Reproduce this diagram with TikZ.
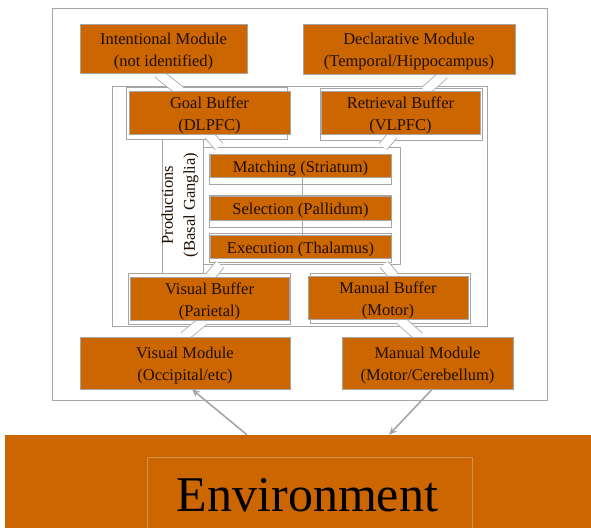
\documentclass[tikz,border=0pt]{standalone}
\usepackage{fontspec}
\setmainfont{Liberation Serif}
\usetikzlibrary{arrows.meta}
\definecolor{orng}{HTML}{CC6600}
\definecolor{gry}{HTML}{A6A6A6}
\definecolor{txt}{HTML}{1F0F00}
\definecolor{envline}{HTML}{D68D52}
\pgfdeclarelayer{lay0}\pgfdeclarelayer{lay1}\pgfdeclarelayer{lay2}
\pgfsetlayers{lay0,lay1,lay2,main}
\newcommand\tpstrut{\rule{0pt}{17.5pt}}
\begin{document}
\begin{tikzpicture}[x=1pt,y=-1pt,
  box/.style={draw=gry, line width=0.8pt, fill=orng, inner sep=0pt, text=txt, align=center,
    font=\fontsize{16.5}{22}\selectfont},
  backbox/.style={draw=gry, line width=0.8pt, fill=white, inner sep=0pt},
  frame/.style={draw=gry, line width=0.9pt, fill=white, inner sep=0pt},
  conn/.style={draw=gry, line width=0.8pt, double=white, double distance=9pt},
  arr/.style={draw=gry, line width=1.6pt, -{Stealth[length=8pt,width=7pt]}},
  thinline/.style={draw=gry, line width=0.8pt}]
\useasboundingbox (0,0) rectangle (591,527);
\clip (0,0) rectangle (591,527);

\begin{pgfonlayer}{lay0}
  \node[frame, minimum width=495pt, minimum height=392pt] (outer) at (299.5,204) {};
  \node[frame, minimum width=375pt, minimum height=240pt] (inner) at (299.5,206) {};
  \node[frame, minimum width=41pt, minimum height=156pt] (plbl) at (182.5,206) {};
  \node[frame, minimum width=197pt, minimum height=117pt] (prod) at (301.5,205.5) {};
\end{pgfonlayer}

\begin{pgfonlayer}{lay1}
  \node[backbox, minimum width=161pt, minimum height=52pt] (gbb) at (206.5,113) {};
  \node[backbox, minimum width=162pt, minimum height=52pt] (rbb) at (401,114) {};
  \node[backbox, minimum width=182pt, minimum height=30pt] (mtb) at (300,169) {};
  \node[backbox, minimum width=182pt, minimum height=32pt] (slb) at (300,211) {};
  \node[backbox, minimum width=182pt, minimum height=29pt] (exb) at (300,247.5) {};
  \node[backbox, minimum width=162pt, minimum height=51pt] (vbb) at (209,298.5) {};
  \node[backbox, minimum width=160pt, minimum height=50pt] (mbb) at (390,298) {};
\end{pgfonlayer}

% orange boxes
\node[box, minimum width=167pt, minimum height=49pt] (im) at (163.5,48.5) {\tpstrut Intentional Module\\(not identified)};
\node[box, minimum width=212pt, minimum height=50pt] (dm) at (409,49) {\tpstrut Declarative Module\\(Temporal/Hippocampus)};
\node[box, minimum width=161pt, minimum height=42pt] (gb) at (209.5,113) {\tpstrut Goal Buffer\\(DLPFC)};
\node[box, minimum width=159pt, minimum height=42pt] (rb) at (400.5,113) {\tpstrut Retrieval Buffer\\(VLPFC)};
\node[box, minimum width=181pt, minimum height=23pt] (mt) at (300.5,165.5) {\tpstrut Matching (Striatum)};
\node[box, minimum width=181pt, minimum height=24pt] (sl) at (300.5,208) {\tpstrut Selection (Pallidum)};
\node[box, minimum width=181pt, minimum height=23pt] (ex) at (300.5,246.5) {\tpstrut Execution (Thalamus)};
\node[box, minimum width=159pt, minimum height=43pt] (vb) at (209.5,298.5) {\tpstrut Visual Buffer\\(Parietal)};
\node[box, minimum width=160pt, minimum height=42pt] (mb) at (388,298) {\tpstrut Manual Buffer\\(Motor)};
\node[box, minimum width=210pt, minimum height=52pt] (vm) at (185,363) {\tpstrut Visual Module\\(Occipital/etc)};
\node[box, minimum width=171pt, minimum height=52pt] (mm) at (427.5,363) {\tpstrut Manual Module\\(Motor/Cerebellum)};

\node[text=txt, rotate=90, align=center, inner sep=0pt, font=\fontsize{16.5}{22}\selectfont] (ptxt) at (180,205) {Productions\\(Basal Ganglia)};

% environment
\node[fill=orng, inner sep=0pt, minimum width=600pt, minimum height=110pt] (env) at (305,490) {};
\node[draw=envline, line width=0.6pt, inner sep=0pt, minimum width=325pt, minimum height=100pt] (envin) at (309.5,507) {};
\node[anchor=base, inner sep=0pt, text=black, font=\fontsize{50}{60}\selectfont] (envt) at (307.5,511) {Environment};

% connectors
\begin{pgfonlayer}{lay2}
  \draw[conn] ([xshift=-5.5pt]im.south) -- ([xshift=-29pt]gb.north);
  \draw[conn] ([xshift=35pt]dm.south) -- ([xshift=24.5pt]rb.north);
  \draw[conn] ([xshift=-0.5pt]gb.south) -- ([xshift=-82.5pt]prod.north);
  \draw[conn] ([xshift=-7.5pt]rb.south) -- ([xshift=81.5pt]prod.north);
  \draw[conn] ([xshift=-81.5pt]prod.south) -- ([xshift=0.5pt]vb.north);
  \draw[conn] ([xshift=82.5pt]prod.south) -- ([xshift=6pt]mb.north);
  \draw[conn] ([xshift=-5.5pt]vb.south) -- ([xshift=-1pt]vm.north);
  \draw[conn] ([xshift=12pt]mb.south) -- ([xshift=-8.5pt]mm.north);
  \draw[thinline] ([xshift=1.5pt]mt.south) -- ([xshift=1.5pt]ex.north);
\end{pgfonlayer}

% arrows
\draw[arr] ([xshift=-58pt]env.north) -- ([xshift=7pt]vm.south);
\draw[arr] ([xshift=4.5pt]mm.south) -- ([xshift=84pt]env.north);
\end{tikzpicture}
\end{document}
